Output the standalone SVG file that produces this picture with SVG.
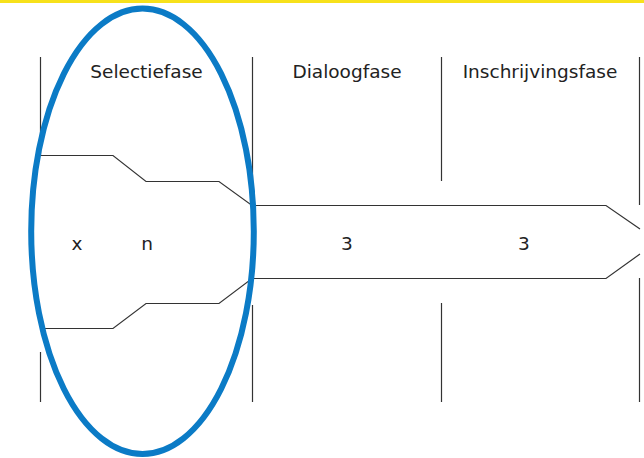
<svg xmlns="http://www.w3.org/2000/svg" width="644" height="458" viewBox="0 0 644 458">
<style>
.ln{stroke:#333;stroke-width:1.2;fill:none}
.lb{font-family:"DejaVu Sans",Verdana,sans-serif;font-size:18.5px;fill:#222;text-anchor:middle}
</style>
<rect width="644" height="458" fill="#fff"/>
<rect x="0" y="0" width="644" height="3" fill="#f7e11b"/>
<g id="dividers">
<line class="ln" x1="40.5" y1="57" x2="40.5" y2="155"/>
<line class="ln" x1="40.5" y1="352" x2="40.5" y2="402"/>
<line class="ln" x1="252.5" y1="57" x2="252.5" y2="205"/>
<line class="ln" x1="252.5" y1="305" x2="252.5" y2="402"/>
<line class="ln" x1="441.5" y1="57" x2="441.5" y2="181"/>
<line class="ln" x1="441.5" y1="303" x2="441.5" y2="402"/>
<line class="ln" x1="639.5" y1="57" x2="639.5" y2="205"/>
<line class="ln" x1="639.5" y1="278" x2="639.5" y2="402"/>
</g>
<g id="phases">
<text class="lb" x="146.5" y="78">Selectiefase</text>
<text class="lb" x="347" y="78">Dialoogfase</text>
<text class="lb" x="540" y="78">Inschrijvingsfase</text>
</g>
<g id="funnel">
<polyline class="ln" points="40,155.5 113,155.5 146,181.5 219,181.5 252,205.5 606,205.5 640,229"/>
<polyline class="ln" points="640,254 606,278.5 252,278.5 219,303.5 146,303.5 113,328.5 40,328.5"/>
<text class="lb" x="77" y="250">x</text>
<text class="lb" x="147" y="250">n</text>
<text class="lb" x="347" y="250">3</text>
<text class="lb" x="524" y="250">3</text>
</g>
<g id="highlight">
<ellipse cx="142.5" cy="231.3" rx="111.3" ry="222.7" fill="none" stroke="#0b7bc6" stroke-width="6"/>
</g>
</svg>
